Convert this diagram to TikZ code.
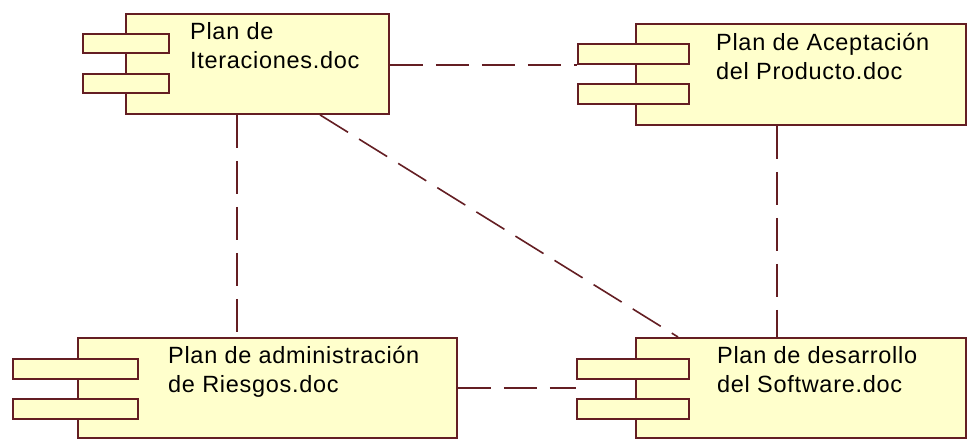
\documentclass[tikz,border=0pt]{standalone}
\usepackage{fontspec}
\setmainfont{Liberation Sans}
\newfontfamily\compfont{Liberation Sans}[LetterSpace=3]
\definecolor{compfill}{RGB}{255,255,204}
\definecolor{compline}{RGB}{100,30,35}
\begin{document}
\begin{tikzpicture}[x=1pt,y=-1pt,
  compbox/.style={draw=compline,fill=compfill,line width=1.9pt,inner sep=0pt,anchor=north west},
  comptext/.style={anchor=base west,align=left,inner sep=0pt,
    font=\compfont\fontsize{23.5}{29}\selectfont,text=black},
  dep/.style={draw=compline,line width=1.6pt,dash pattern=on 33pt off 13pt}]
\useasboundingbox[fill=white] (0,0) rectangle (969,441);

% Plan de Iteraciones
\node[compbox,minimum width=263pt,minimum height=100pt] (iter) at (125,13) {};
\node[compbox,minimum width=86pt,minimum height=19pt] (iter-t1) at (82,33) {};
\node[compbox,minimum width=86pt,minimum height=19pt] (iter-t2) at (82,73) {};
\node[comptext] (iter-l) at (190,69) {Plan de\\Iteraciones.doc};

% Plan de Aceptación del Producto
\node[compbox,minimum width=330pt,minimum height=101pt] (acep) at (635,23) {};
\node[compbox,minimum width=111pt,minimum height=20pt] (acep-t1) at (577,43) {};
\node[compbox,minimum width=111pt,minimum height=20pt] (acep-t2) at (577,83) {};
\node[comptext] (acep-l) at (716,80) {Plan de Aceptación\\del Producto.doc};

% Plan de administración de Riesgos
\node[compbox,minimum width=379pt,minimum height=100pt] (adm) at (77,337) {};
\node[compbox,minimum width=125pt,minimum height=20pt] (adm-t1) at (12,358) {};
\node[compbox,minimum width=125pt,minimum height=20pt] (adm-t2) at (12,398) {};
\node[comptext] (adm-l) at (168,392) {Plan de administración\\de Riesgos.doc};

% Plan de desarrollo del Software
\node[compbox,minimum width=330pt,minimum height=100pt] (des) at (635,337) {};
\node[compbox,minimum width=112pt,minimum height=20pt] (des-t1) at (576,358) {};
\node[compbox,minimum width=112pt,minimum height=20pt] (des-t2) at (576,398) {};
\node[comptext] (des-l) at (717,392) {Plan de desarrollo\\del Software.doc};

% dependencies
\draw[dep] (iter.east |- acep-t1.south west) -- (acep-t1.south west);
\draw[dep] (iter.south west -| 237,0) -- (adm.north west -| 237,0);
\draw[dep] (iter.south west -| 320,0) -- (des.north west -| 678,0);
\draw[dep] (acep.south west -| 777,0) -- (des.north west -| 777,0);
\draw[dep] (adm.east) -- (adm.east -| des-t1.west);
\end{tikzpicture}
\end{document}
